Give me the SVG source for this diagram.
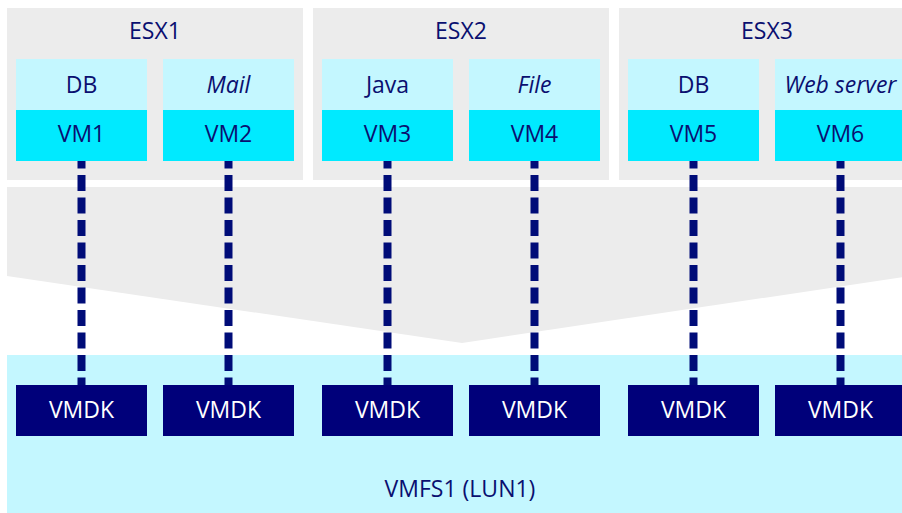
<svg xmlns="http://www.w3.org/2000/svg" width="902" height="513" viewBox="0 0 902 513">
<style>
.host{fill:#ececec}
.app{fill:#c4f7ff}
.vm{fill:#00eaff}
.vmdk{fill:#00007a}
.t{font-family:"Open Sans","Noto Sans",sans-serif;font-size:23px;fill:#0a0f70;text-anchor:middle}
.i{font-style:italic}
.w{fill:#ffffff}
.conn{stroke:#000c78;stroke-width:8;stroke-dasharray:16 6.5;stroke-dashoffset:8.5;fill:none}
</style>
<rect width="902" height="513" fill="#ffffff"/>
<polygon points="7,187 910,187 910,276 462,343 7,276" fill="#ececec"/>
<rect x="7" y="355" width="903" height="158" fill="#c4f7ff"/>
<text class="t" x="460" y="497">VMFS1 (LUN1)</text>
<g id="esx1"><rect class="host" x="7" y="8" width="296" height="172"/><text class="t" x="155" y="39">ESX1</text></g>
<g id="esx2"><rect class="host" x="313" y="8" width="296" height="172"/><text class="t" x="461" y="39">ESX2</text></g>
<g id="esx3"><rect class="host" x="619" y="8" width="296" height="172"/><text class="t" x="767" y="39">ESX3</text></g>
<g id="vm1"><rect class="app" x="16" y="59" width="131" height="51"/><rect class="vm" x="16" y="110" width="131" height="51"/><text class="t" x="81.5" y="93">DB</text><text class="t" x="81.5" y="142">VM1</text></g>
<g id="vm2"><rect class="app" x="163" y="59" width="131" height="51"/><rect class="vm" x="163" y="110" width="131" height="51"/><text class="t i" x="228.5" y="93">Mail</text><text class="t" x="228.5" y="142">VM2</text></g>
<g id="vm3"><rect class="app" x="322" y="59" width="131" height="51"/><rect class="vm" x="322" y="110" width="131" height="51"/><text class="t" x="387.5" y="93">Java</text><text class="t" x="387.5" y="142">VM3</text></g>
<g id="vm4"><rect class="app" x="469" y="59" width="131" height="51"/><rect class="vm" x="469" y="110" width="131" height="51"/><text class="t i" x="534.5" y="93">File</text><text class="t" x="534.5" y="142">VM4</text></g>
<g id="vm5"><rect class="app" x="628" y="59" width="131" height="51"/><rect class="vm" x="628" y="110" width="131" height="51"/><text class="t" x="693.5" y="93">DB</text><text class="t" x="693.5" y="142">VM5</text></g>
<g id="vm6"><rect class="app" x="775" y="59" width="131" height="51"/><rect class="vm" x="775" y="110" width="131" height="51"/><text class="t i" x="840.5" y="93">Web server</text><text class="t" x="840.5" y="142">VM6</text></g>
<g id="connectors">
<line class="conn" x1="81.5" y1="161" x2="81.5" y2="385"/>
<line class="conn" x1="228.5" y1="161" x2="228.5" y2="385"/>
<line class="conn" x1="387.5" y1="161" x2="387.5" y2="385"/>
<line class="conn" x1="534.5" y1="161" x2="534.5" y2="385"/>
<line class="conn" x1="693.5" y1="161" x2="693.5" y2="385"/>
<line class="conn" x1="840.5" y1="161" x2="840.5" y2="385"/>
</g>
<g id="vmdk1"><rect class="vmdk" x="16" y="385" width="131" height="51"/><text class="t w" x="81.5" y="418">VMDK</text></g>
<g id="vmdk2"><rect class="vmdk" x="163" y="385" width="131" height="51"/><text class="t w" x="228.5" y="418">VMDK</text></g>
<g id="vmdk3"><rect class="vmdk" x="322" y="385" width="131" height="51"/><text class="t w" x="387.5" y="418">VMDK</text></g>
<g id="vmdk4"><rect class="vmdk" x="469" y="385" width="131" height="51"/><text class="t w" x="534.5" y="418">VMDK</text></g>
<g id="vmdk5"><rect class="vmdk" x="628" y="385" width="131" height="51"/><text class="t w" x="693.5" y="418">VMDK</text></g>
<g id="vmdk6"><rect class="vmdk" x="775" y="385" width="131" height="51"/><text class="t w" x="840.5" y="418">VMDK</text></g>
</svg>
